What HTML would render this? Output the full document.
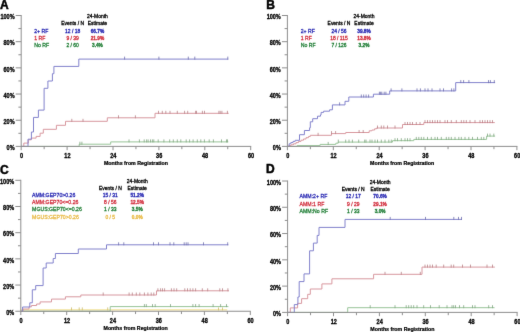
<!DOCTYPE html>
<html><head><meta charset="utf-8"><title>Kaplan-Meier curves</title>
<style>html,body{margin:0;padding:0;background:#fff;width:520px;height:332px;overflow:hidden}svg{display:block;will-change:transform}text{font-family:"Liberation Sans",sans-serif}</style>
</head><body><svg width="520" height="332" viewBox="0 0 520 332"><defs><filter id="bl" x="0" y="0" width="520" height="332" filterUnits="userSpaceOnUse"><feConvolveMatrix order="3" kernelMatrix="0.00524 0.06192 0.00524 0.06192 0.73137 0.06192 0.00524 0.06192 0.00524" preserveAlpha="false" edgeMode="none"/></filter></defs><rect width="520" height="332" fill="#fff"/><g filter="url(#bl)"><g><text transform="translate(97.40 18.10) scale(0.92 1)" text-anchor="middle" font-size="5.4" fill="#000" stroke="#000" stroke-width="0.3">24-Month</text><text transform="translate(72.60 25.20) scale(0.92 1)" text-anchor="middle" font-size="5.4" fill="#000" stroke="#000" stroke-width="0.3">Events / N</text><text transform="translate(97.40 25.20) scale(0.92 1)" text-anchor="middle" font-size="5.4" fill="#000" stroke="#000" stroke-width="0.3">Estimate</text><text transform="translate(34.20 32.70) scale(0.96 1)" font-size="5.4" fill="#2020b0" stroke="#2020b0" stroke-width="0.25">2+ RF</text><text transform="translate(72.60 32.70) scale(0.92 1)" text-anchor="middle" font-size="5.4" fill="#2020b0" stroke="#2020b0" stroke-width="0.3">12 / 18</text><text transform="translate(97.40 32.70) scale(0.88 1)" text-anchor="middle" font-size="5.4" font-weight="bold" fill="#2020b0" stroke="#2020b0" stroke-width="0.3">66.7%</text><text transform="translate(34.20 39.80) scale(0.96 1)" font-size="5.4" fill="#d02838" stroke="#d02838" stroke-width="0.25">1 RF</text><text transform="translate(72.60 39.80) scale(0.92 1)" text-anchor="middle" font-size="5.4" fill="#d02838" stroke="#d02838" stroke-width="0.3">9 / 39</text><text transform="translate(97.40 39.80) scale(0.88 1)" text-anchor="middle" font-size="5.4" font-weight="bold" fill="#d02838" stroke="#d02838" stroke-width="0.3">21.9%</text><text transform="translate(34.20 46.90) scale(0.96 1)" font-size="5.4" fill="#187a30" stroke="#187a30" stroke-width="0.25">No RF</text><text transform="translate(72.60 46.90) scale(0.92 1)" text-anchor="middle" font-size="5.4" fill="#187a30" stroke="#187a30" stroke-width="0.3">2 / 60</text><text transform="translate(97.40 46.90) scale(0.88 1)" text-anchor="middle" font-size="5.4" font-weight="bold" fill="#187a30" stroke="#187a30" stroke-width="0.3">3.4%</text></g><path d="M21.20 146.40H79.20V144.20H110.70V141.90H228.30" stroke="#98c498" stroke-width="1.0" fill="none"/><path d="M79.90 144.70V141.70M81.90 144.70V141.70M129.00 142.40V139.40M139.40 142.40V139.40M144.20 142.40V139.40M146.60 142.40V139.40M148.10 142.40V139.40M150.50 142.40V139.40M152.40 142.40V139.40M153.80 142.40V139.40M158.20 142.40V139.40M163.90 142.40V139.40M169.70 142.40V139.40M173.30 142.40V139.40M177.30 142.40V139.40M180.80 142.40V139.40M186.20 142.40V139.40M189.60 142.40V139.40M193.10 142.40V139.40M197.30 142.40V139.40M200.80 142.40V139.40M204.40 142.40V139.40M209.20 142.40V139.40M213.40 142.40V139.40M221.50 142.40V139.40M226.50 142.40V139.40M227.50 142.40V139.40" stroke="#81a681" stroke-width="0.8" fill="none"/><path d="M21.20 146.40H23.80V143.10H28.30V139.80H31.30V138.10H36.10V136.40H40.10V133.20H43.30V129.30H56.40V125.30H65.50V121.30H107.30V117.80H155.00V113.30H228.70" stroke="#d8989f" stroke-width="1.0" fill="none"/><path d="M71.80 121.80V118.80M83.00 121.80V118.80M118.50 118.30V115.30M135.40 118.30V115.30M158.50 113.80V110.80M162.30 113.80V110.80M165.80 113.80V110.80M170.00 113.80V110.80M177.30 113.80V110.80M184.60 113.80V110.80M187.70 113.80V110.80M195.60 113.80V110.80M196.50 113.80V110.80M202.40 113.80V110.80M204.50 113.80V110.80M218.90 113.80V110.80M220.20 113.80V110.80M221.90 113.80V110.80M227.40 113.80V110.80" stroke="#b78187" stroke-width="0.8" fill="none"/><path d="M21.20 146.40H28.00V139.20H31.40V132.00H33.50V117.40H38.40V110.10H44.10V88.30H47.90V81.00H52.40V73.70H53.90V66.40H78.80V59.10H228.30" stroke="#8282cc" stroke-width="1.0" fill="none"/><path d="M124.60 59.60V56.60M158.90 59.60V56.60M188.30 59.60V56.60M194.80 59.60V56.60M227.80 59.60V56.60" stroke="#6e6ead" stroke-width="0.8" fill="none"/><g><text transform="translate(364.00 18.10) scale(0.92 1)" text-anchor="middle" font-size="5.4" fill="#000" stroke="#000" stroke-width="0.3">24-Month</text><text transform="translate(339.00 25.20) scale(0.92 1)" text-anchor="middle" font-size="5.4" fill="#000" stroke="#000" stroke-width="0.3">Events / N</text><text transform="translate(364.00 25.20) scale(0.92 1)" text-anchor="middle" font-size="5.4" fill="#000" stroke="#000" stroke-width="0.3">Estimate</text><text transform="translate(300.70 32.70) scale(0.96 1)" font-size="5.4" fill="#2020b0" stroke="#2020b0" stroke-width="0.25">2+ RF</text><text transform="translate(339.00 32.70) scale(0.92 1)" text-anchor="middle" font-size="5.4" fill="#2020b0" stroke="#2020b0" stroke-width="0.3">24 / 56</text><text transform="translate(364.00 32.70) scale(0.88 1)" text-anchor="middle" font-size="5.4" font-weight="bold" fill="#2020b0" stroke="#2020b0" stroke-width="0.3">39.8%</text><text transform="translate(300.70 39.80) scale(0.96 1)" font-size="5.4" fill="#d02838" stroke="#d02838" stroke-width="0.25">1 RF</text><text transform="translate(339.00 39.80) scale(0.92 1)" text-anchor="middle" font-size="5.4" fill="#d02838" stroke="#d02838" stroke-width="0.3">18 / 115</text><text transform="translate(364.00 39.80) scale(0.88 1)" text-anchor="middle" font-size="5.4" font-weight="bold" fill="#d02838" stroke="#d02838" stroke-width="0.3">13.8%</text><text transform="translate(300.70 46.90) scale(0.96 1)" font-size="5.4" fill="#187a30" stroke="#187a30" stroke-width="0.25">No RF</text><text transform="translate(339.00 46.90) scale(0.92 1)" text-anchor="middle" font-size="5.4" fill="#187a30" stroke="#187a30" stroke-width="0.3">7 / 126</text><text transform="translate(364.00 46.90) scale(0.88 1)" text-anchor="middle" font-size="5.4" font-weight="bold" fill="#187a30" stroke="#187a30" stroke-width="0.3">3.2%</text></g><path d="M287.40 146.40H297.10V145.60H320.10V144.40H335.80V143.20H338.20V142.10H392.50V140.70H413.80V139.40H486.60V136.10H495.10" stroke="#98c498" stroke-width="1.0" fill="none"/><path d="M328.20 144.90V141.90M338.30 142.60V139.60M345.70 142.60V139.60M349.00 142.60V139.60M352.40 142.60V139.60M358.70 142.60V139.60M364.70 142.60V139.60M366.00 142.60V139.60M370.00 142.60V139.60M372.00 142.60V139.60M375.00 142.60V139.60M377.50 142.60V139.60M381.30 142.60V139.60M385.00 142.60V139.60M388.80 142.60V139.60M391.30 142.60V139.60M395.00 141.20V138.20M397.50 141.20V138.20M401.30 141.20V138.20M405.00 141.20V138.20M407.50 141.20V138.20M410.00 141.20V138.20M416.30 139.90V136.90M418.80 139.90V136.90M421.30 139.90V136.90M423.80 139.90V136.90M427.50 139.90V136.90M431.30 139.90V136.90M435.00 139.90V136.90M437.50 139.90V136.90M441.30 139.90V136.90M446.30 139.90V136.90M448.80 139.90V136.90M451.30 139.90V136.90M455.00 139.90V136.90M458.80 139.90V136.90M461.30 139.90V136.90M465.00 139.90V136.90M468.80 139.90V136.90M472.50 139.90V136.90M477.50 139.90V136.90M481.30 139.90V136.90M483.80 139.90V136.90M487.50 136.60V133.60M490.00 136.60V133.60M493.80 136.60V133.60" stroke="#81a681" stroke-width="0.8" fill="none"/><path d="M287.40 146.40H289.00V145.60H291.00V144.80H293.50V143.80H296.00V142.60H298.50V141.40H301.00V140.20H303.50V139.00H306.00V137.70H308.50V136.50H310.30V135.30H331.50V133.60H345.70V132.50H369.20V130.80H371.90V130.00H374.60V128.80H376.50V128.00H402.50V124.50H423.80V122.60H494.80" stroke="#d8989f" stroke-width="1.0" fill="none"/><path d="M318.10 135.80V132.80M331.50 134.10V131.10M335.60 134.10V131.10M359.10 133.00V130.00M363.20 133.00V130.00M377.50 128.50V125.50M381.30 128.50V125.50M383.80 128.50V125.50M387.50 128.50V125.50M395.00 128.50V125.50M405.00 125.00V122.00M407.50 125.00V122.00M410.00 125.00V122.00M412.50 125.00V122.00M416.30 125.00V122.00M420.00 125.00V122.00M425.00 123.10V120.10M427.50 123.10V120.10M430.00 123.10V120.10M432.50 123.10V120.10M435.00 123.10V120.10M437.50 123.10V120.10M440.00 123.10V120.10M445.00 123.10V120.10M447.50 123.10V120.10M451.30 123.10V120.10M456.30 123.10V120.10M461.30 123.10V120.10M463.80 123.10V120.10M466.30 123.10V120.10M470.00 123.10V120.10M475.00 123.10V120.10M480.00 123.10V120.10M482.50 123.10V120.10M485.00 123.10V120.10M487.50 123.10V120.10M490.00 123.10V120.10M492.50 123.10V120.10" stroke="#b78187" stroke-width="0.8" fill="none"/><path d="M287.40 146.40H289.10V143.80H290.80V142.60H293.00V141.40H295.20V140.30H299.50V134.70H304.40V130.50H309.60V127.80H310.30V121.80H312.70V118.70H317.50V116.20H320.50V114.80H321.10V112.40H323.60V111.20H329.60V109.80H332.40V104.90H345.00V101.30H348.80V97.00H373.40V94.20H389.70V90.90H455.70V82.60H495.10" stroke="#8282cc" stroke-width="1.0" fill="none"/><path d="M339.60 105.40V102.40M361.30 97.50V94.50M363.70 97.50V94.50M366.10 97.50V94.50M368.60 97.50V94.50M379.40 94.70V91.70M380.60 94.70V91.70M381.80 94.70V91.70M384.20 94.70V91.70M385.90 94.70V91.70M391.10 91.40V88.40M401.90 91.40V88.40M417.00 91.40V88.40M420.40 91.40V88.40M425.00 91.40V88.40M428.00 91.40V88.40M432.00 91.40V88.40M440.00 91.40V88.40M443.50 91.40V88.40M451.60 91.40V88.40M453.90 91.40V88.40M460.80 83.10V80.10M463.60 83.10V80.10M468.90 83.10V80.10M488.50 83.10V80.10M490.40 83.10V80.10M494.30 83.10V80.10" stroke="#6e6ead" stroke-width="0.8" fill="none"/><g><text transform="translate(137.20 182.80) scale(0.92 1)" text-anchor="middle" font-size="5.4" fill="#000" stroke="#000" stroke-width="0.3">24-Month</text><text transform="translate(110.30 189.95) scale(0.92 1)" text-anchor="middle" font-size="5.4" fill="#000" stroke="#000" stroke-width="0.3">Events / N</text><text transform="translate(137.20 189.95) scale(0.92 1)" text-anchor="middle" font-size="5.4" fill="#000" stroke="#000" stroke-width="0.3">Estimate</text><text transform="translate(32.10 197.10) scale(0.96 1)" font-size="5.4" fill="#2020b0" stroke="#2020b0" stroke-width="0.25">AMM:GEP70&gt;0.26</text><text transform="translate(110.30 197.10) scale(0.92 1)" text-anchor="middle" font-size="5.4" fill="#2020b0" stroke="#2020b0" stroke-width="0.3">15 / 31</text><text transform="translate(137.20 197.10) scale(0.88 1)" text-anchor="middle" font-size="5.4" font-weight="bold" fill="#2020b0" stroke="#2020b0" stroke-width="0.3">51.2%</text><text transform="translate(32.10 204.25) scale(0.96 1)" font-size="5.4" fill="#d02838" stroke="#d02838" stroke-width="0.25">AMM:GEP70&lt;=0.26</text><text transform="translate(110.30 204.25) scale(0.92 1)" text-anchor="middle" font-size="5.4" fill="#d02838" stroke="#d02838" stroke-width="0.3">8 / 56</text><text transform="translate(137.20 204.25) scale(0.88 1)" text-anchor="middle" font-size="5.4" font-weight="bold" fill="#d02838" stroke="#d02838" stroke-width="0.3">12.5%</text><text transform="translate(32.10 211.40) scale(0.96 1)" font-size="5.4" fill="#187a30" stroke="#187a30" stroke-width="0.25">MGUS:GEP70&lt;=0.26</text><text transform="translate(110.30 211.40) scale(0.92 1)" text-anchor="middle" font-size="5.4" fill="#187a30" stroke="#187a30" stroke-width="0.3">1 / 33</text><text transform="translate(137.20 211.40) scale(0.88 1)" text-anchor="middle" font-size="5.4" font-weight="bold" fill="#187a30" stroke="#187a30" stroke-width="0.3">3.5%</text><text transform="translate(32.10 218.55) scale(0.96 1)" font-size="5.4" fill="#e8b840" stroke="#e8b840" stroke-width="0.25">MGUS:GEP70&gt;0.26</text><text transform="translate(110.30 218.55) scale(0.92 1)" text-anchor="middle" font-size="5.4" fill="#e8b840" stroke="#e8b840" stroke-width="0.3">0 / 5</text><text transform="translate(137.20 218.55) scale(0.88 1)" text-anchor="middle" font-size="5.4" font-weight="bold" fill="#e8b840" stroke="#e8b840" stroke-width="0.3">0.0%</text></g><path d="M20.80 309.90H227.30" stroke="#f0dc80" stroke-width="1.0" fill="none"/><path d="M71.50 310.40V307.40M79.20 310.40V307.40M82.30 310.40V307.40M107.70 310.40V307.40M218.50 310.40V307.40M222.50 310.40V307.40" stroke="#ccbb6c" stroke-width="0.8" fill="none"/><path d="M20.80 311.25H110.20V306.60H228.40" stroke="#98c498" stroke-width="1.0" fill="none"/><path d="M144.40 307.10V304.10M146.30 307.10V304.10M152.50 307.10V304.10M155.20 307.10V304.10M170.50 307.10V304.10M192.90 307.10V304.10M195.60 307.10V304.10M199.10 307.10V304.10M213.10 307.10V304.10M220.60 307.10V304.10M226.50 307.10V304.10" stroke="#81a681" stroke-width="0.8" fill="none"/><path d="M20.80 311.25H23.00V309.00H29.00V306.90H31.40V305.50H36.60V304.00H40.10V301.90H51.50V299.10H65.40V296.80H80.80V295.00H156.50V290.80H229.00" stroke="#d8989f" stroke-width="1.0" fill="none"/><path d="M103.20 295.50V292.50M129.10 295.50V292.50M132.30 295.50V292.50M136.30 295.50V292.50M139.80 295.50V292.50M144.40 295.50V292.50M147.90 295.50V292.50M151.20 295.50V292.50M153.80 295.50V292.50M157.90 291.30V288.30M160.60 291.30V288.30M162.50 291.30V288.30M164.60 291.30V288.30M171.40 291.30V288.30M174.00 291.30V288.30M176.70 291.30V288.30M184.80 291.30V288.30M187.50 291.30V288.30M190.20 291.30V288.30M192.90 291.30V288.30M195.60 291.30V288.30M202.30 291.30V288.30M207.70 291.30V288.30M219.80 291.30V288.30M222.50 291.30V288.30M227.90 291.30V288.30" stroke="#b78187" stroke-width="0.8" fill="none"/><path d="M20.80 311.25H22.60V307.00H29.80V302.80H32.30V289.80H35.70V285.60H43.10V268.00H46.20V263.00H53.20V258.50H55.40V253.50H78.30V249.00H106.50V244.80H228.40" stroke="#8282cc" stroke-width="1.0" fill="none"/><path d="M118.60 245.30V242.30M123.80 245.30V242.30M153.50 245.30V242.30M158.50 245.30V242.30M170.00 245.30V242.30M173.80 245.30V242.30M184.20 245.30V242.30M186.20 245.30V242.30M188.00 245.30V242.30M203.50 245.30V242.30M227.70 245.30V242.30" stroke="#6e6ead" stroke-width="0.8" fill="none"/><g><text transform="translate(380.10 183.80) scale(0.92 1)" text-anchor="middle" font-size="5.4" fill="#000" stroke="#000" stroke-width="0.3">24-Month</text><text transform="translate(353.20 191.10) scale(0.92 1)" text-anchor="middle" font-size="5.4" fill="#000" stroke="#000" stroke-width="0.3">Events / N</text><text transform="translate(380.10 191.10) scale(0.92 1)" text-anchor="middle" font-size="5.4" fill="#000" stroke="#000" stroke-width="0.3">Estimate</text><text transform="translate(299.60 198.40) scale(0.96 1)" font-size="5.4" fill="#2020b0" stroke="#2020b0" stroke-width="0.25">AMM:2+ RF</text><text transform="translate(353.20 198.40) scale(0.92 1)" text-anchor="middle" font-size="5.4" fill="#2020b0" stroke="#2020b0" stroke-width="0.3">12 / 17</text><text transform="translate(380.10 198.40) scale(0.88 1)" text-anchor="middle" font-size="5.4" font-weight="bold" fill="#2020b0" stroke="#2020b0" stroke-width="0.3">70.6%</text><text transform="translate(299.60 205.70) scale(0.96 1)" font-size="5.4" fill="#d02838" stroke="#d02838" stroke-width="0.25">AMM:1 RF</text><text transform="translate(353.20 205.70) scale(0.92 1)" text-anchor="middle" font-size="5.4" fill="#d02838" stroke="#d02838" stroke-width="0.3">9 / 29</text><text transform="translate(380.10 205.70) scale(0.88 1)" text-anchor="middle" font-size="5.4" font-weight="bold" fill="#d02838" stroke="#d02838" stroke-width="0.3">29.1%</text><text transform="translate(299.60 213.00) scale(0.96 1)" font-size="5.4" fill="#187a30" stroke="#187a30" stroke-width="0.25">AMM:No RF</text><text transform="translate(353.20 213.00) scale(0.92 1)" text-anchor="middle" font-size="5.4" fill="#187a30" stroke="#187a30" stroke-width="0.3">1 / 33</text><text transform="translate(380.10 213.00) scale(0.88 1)" text-anchor="middle" font-size="5.4" font-weight="bold" fill="#187a30" stroke="#187a30" stroke-width="0.3">3.0%</text></g><path d="M287.60 312.40H347.70V307.70H494.50" stroke="#98c498" stroke-width="1.0" fill="none"/><path d="M370.20 308.20V305.20M395.00 308.20V305.20M406.20 308.20V305.20M408.70 308.20V305.20M411.20 308.20V305.20M413.70 308.20V305.20M417.00 308.20V305.20M423.70 308.20V305.20M430.50 308.20V305.20M439.20 308.20V305.20M447.00 308.20V305.20M452.00 308.20V305.20M453.70 308.20V305.20M455.50 308.20V305.20M459.50 308.20V305.20M463.70 308.20V305.20M472.50 308.20V305.20M475.00 308.20V305.20M488.70 308.20V305.20M492.50 308.20V305.20" stroke="#81a681" stroke-width="0.8" fill="none"/><path d="M287.60 312.40H290.30V307.90H297.60V303.40H301.60V298.70H307.70V294.30H310.30V289.00H321.90V283.90H331.90V278.80H373.60V274.30H422.00V267.10H494.80" stroke="#d8989f" stroke-width="1.0" fill="none"/><path d="M385.00 274.80V271.80M401.30 274.80V271.80M420.30 274.80V271.80M425.00 267.60V264.60M427.50 267.60V264.60M430.00 267.60V264.60M432.50 267.60V264.60M436.20 267.60V264.60M443.70 267.60V264.60M451.20 267.60V264.60M453.70 267.60V264.60M462.50 267.60V264.60M470.50 267.60V264.60M487.00 267.60V264.60M492.50 267.60V264.60" stroke="#b78187" stroke-width="0.8" fill="none"/><path d="M287.60 312.40H294.30V304.60H297.90V297.00H299.20V281.60H304.00V273.90H309.60V250.80H313.40V243.10H317.20V235.40H319.00V227.40H345.00V219.40H462.00" stroke="#8282cc" stroke-width="1.0" fill="none"/><path d="M390.20 219.90V216.90M425.50 219.90V216.90M453.80 219.90V216.90M458.50 219.90V216.90M461.50 219.90V216.90" stroke="#6e6ead" stroke-width="0.8" fill="none"/><path d="M21.20 15.00V150.20M15.70 146.40H251.20M18.40 133.31H21.20M15.70 120.22H21.20M18.40 107.13H21.20M15.70 94.04H21.20M18.40 80.95H21.20M15.70 67.86H21.20M18.40 54.77H21.20M15.70 41.68H21.20M18.40 28.59H21.20M15.70 15.50H21.20M44.15 146.40V149.20M67.10 146.40V150.20M90.05 146.40V149.20M113.00 146.40V150.20M135.95 146.40V149.20M158.90 146.40V150.20M181.85 146.40V149.20M204.80 146.40V150.20M227.75 146.40V149.20M250.70 146.40V150.20" stroke="#8e8e8e" stroke-width="1.0" fill="none"/><path d="M287.40 15.00V150.20M281.90 146.40H517.40M284.60 133.31H287.40M281.90 120.22H287.40M284.60 107.13H287.40M281.90 94.04H287.40M284.60 80.95H287.40M281.90 67.86H287.40M284.60 54.77H287.40M281.90 41.68H287.40M284.60 28.59H287.40M281.90 15.50H287.40M310.35 146.40V149.20M333.30 146.40V150.20M356.25 146.40V149.20M379.20 146.40V150.20M402.15 146.40V149.20M425.10 146.40V150.20M448.05 146.40V149.20M471.00 146.40V150.20M493.95 146.40V149.20M516.90 146.40V150.20" stroke="#8e8e8e" stroke-width="1.0" fill="none"/><path d="M20.80 179.80V315.05M15.30 311.25H250.80M18.00 298.15H20.80M15.30 285.06H20.80M18.00 271.97H20.80M15.30 258.87H20.80M18.00 245.78H20.80M15.30 232.68H20.80M18.00 219.58H20.80M15.30 206.49H20.80M18.00 193.40H20.80M15.30 180.30H20.80M43.75 311.25V314.05M66.70 311.25V315.05M89.65 311.25V314.05M112.60 311.25V315.05M135.55 311.25V314.05M158.50 311.25V315.05M181.45 311.25V314.05M204.40 311.25V315.05M227.35 311.25V314.05M250.30 311.25V315.05" stroke="#8e8e8e" stroke-width="1.0" fill="none"/><path d="M287.60 180.50V316.20M282.10 312.40H517.60M284.80 299.26H287.60M282.10 286.12H287.60M284.80 272.98H287.60M282.10 259.84H287.60M284.80 246.70H287.60M282.10 233.56H287.60M284.80 220.42H287.60M282.10 207.28H287.60M284.80 194.14H287.60M282.10 181.00H287.60M310.55 312.40V315.20M333.50 312.40V316.20M356.45 312.40V315.20M379.40 312.40V316.20M402.35 312.40V315.20M425.30 312.40V316.20M448.25 312.40V315.20M471.20 312.40V316.20M494.15 312.40V315.20M517.10 312.40V316.20" stroke="#8e8e8e" stroke-width="1.0" fill="none"/><g font-size="6.3" font-weight="bold" fill="#000" stroke="#000" stroke-width="0.3"><text transform="translate(14.60 150.20) scale(0.88 1)" text-anchor="end">0%</text><text transform="translate(14.60 124.02) scale(0.88 1)" text-anchor="end">20%</text><text transform="translate(14.60 97.84) scale(0.88 1)" text-anchor="end">40%</text><text transform="translate(14.60 71.66) scale(0.88 1)" text-anchor="end">60%</text><text transform="translate(14.60 45.48) scale(0.88 1)" text-anchor="end">80%</text><text transform="translate(14.60 19.30) scale(0.88 1)" text-anchor="end">100%</text><text transform="translate(21.50 157.50) scale(0.88 1)" text-anchor="middle">0</text><text transform="translate(67.40 157.50) scale(0.88 1)" text-anchor="middle">12</text><text transform="translate(113.30 157.50) scale(0.88 1)" text-anchor="middle">24</text><text transform="translate(159.20 157.50) scale(0.88 1)" text-anchor="middle">36</text><text transform="translate(205.10 157.50) scale(0.88 1)" text-anchor="middle">48</text><text transform="translate(251.00 157.50) scale(0.88 1)" text-anchor="middle">60</text></g><text transform="translate(135.95 165.10) scale(0.925 1)" text-anchor="middle" font-size="5.7" font-weight="bold" fill="#000" stroke="#000" stroke-width="0.25">Months from Registration</text><text x="0.00" y="8.90" font-size="12" font-weight="bold" fill="#000" stroke="#000" stroke-width="0.5">A</text><g font-size="6.3" font-weight="bold" fill="#000" stroke="#000" stroke-width="0.3"><text transform="translate(280.80 150.20) scale(0.88 1)" text-anchor="end">0%</text><text transform="translate(280.80 124.02) scale(0.88 1)" text-anchor="end">20%</text><text transform="translate(280.80 97.84) scale(0.88 1)" text-anchor="end">40%</text><text transform="translate(280.80 71.66) scale(0.88 1)" text-anchor="end">60%</text><text transform="translate(280.80 45.48) scale(0.88 1)" text-anchor="end">80%</text><text transform="translate(280.80 19.30) scale(0.88 1)" text-anchor="end">100%</text><text transform="translate(287.70 157.50) scale(0.88 1)" text-anchor="middle">0</text><text transform="translate(333.60 157.50) scale(0.88 1)" text-anchor="middle">12</text><text transform="translate(379.50 157.50) scale(0.88 1)" text-anchor="middle">24</text><text transform="translate(425.40 157.50) scale(0.88 1)" text-anchor="middle">36</text><text transform="translate(471.30 157.50) scale(0.88 1)" text-anchor="middle">48</text><text transform="translate(517.20 157.50) scale(0.88 1)" text-anchor="middle">60</text></g><text transform="translate(402.15 165.10) scale(0.925 1)" text-anchor="middle" font-size="5.7" font-weight="bold" fill="#000" stroke="#000" stroke-width="0.25">Months from Registration</text><text x="266.30" y="8.90" font-size="12" font-weight="bold" fill="#000" stroke="#000" stroke-width="0.5">B</text><g font-size="6.3" font-weight="bold" fill="#000" stroke="#000" stroke-width="0.3"><text transform="translate(14.20 315.05) scale(0.88 1)" text-anchor="end">0%</text><text transform="translate(14.20 288.86) scale(0.88 1)" text-anchor="end">20%</text><text transform="translate(14.20 262.67) scale(0.88 1)" text-anchor="end">40%</text><text transform="translate(14.20 236.48) scale(0.88 1)" text-anchor="end">60%</text><text transform="translate(14.20 210.29) scale(0.88 1)" text-anchor="end">80%</text><text transform="translate(14.20 184.10) scale(0.88 1)" text-anchor="end">100%</text><text transform="translate(21.10 323.05) scale(0.88 1)" text-anchor="middle">0</text><text transform="translate(67.00 323.05) scale(0.88 1)" text-anchor="middle">12</text><text transform="translate(112.90 323.05) scale(0.88 1)" text-anchor="middle">24</text><text transform="translate(158.80 323.05) scale(0.88 1)" text-anchor="middle">36</text><text transform="translate(204.70 323.05) scale(0.88 1)" text-anchor="middle">48</text><text transform="translate(250.60 323.05) scale(0.88 1)" text-anchor="middle">60</text></g><text transform="translate(135.55 329.95) scale(0.925 1)" text-anchor="middle" font-size="5.7" font-weight="bold" fill="#000" stroke="#000" stroke-width="0.25">Months from Registration</text><text x="0.00" y="173.60" font-size="12" font-weight="bold" fill="#000" stroke="#000" stroke-width="0.5">C</text><g font-size="6.3" font-weight="bold" fill="#000" stroke="#000" stroke-width="0.3"><text transform="translate(281.00 316.20) scale(0.88 1)" text-anchor="end">0%</text><text transform="translate(281.00 289.92) scale(0.88 1)" text-anchor="end">20%</text><text transform="translate(281.00 263.64) scale(0.88 1)" text-anchor="end">40%</text><text transform="translate(281.00 237.36) scale(0.88 1)" text-anchor="end">60%</text><text transform="translate(281.00 211.08) scale(0.88 1)" text-anchor="end">80%</text><text transform="translate(281.00 184.80) scale(0.88 1)" text-anchor="end">100%</text><text transform="translate(287.90 323.50) scale(0.88 1)" text-anchor="middle">0</text><text transform="translate(333.80 323.50) scale(0.88 1)" text-anchor="middle">12</text><text transform="translate(379.70 323.50) scale(0.88 1)" text-anchor="middle">24</text><text transform="translate(425.60 323.50) scale(0.88 1)" text-anchor="middle">36</text><text transform="translate(471.50 323.50) scale(0.88 1)" text-anchor="middle">48</text><text transform="translate(517.40 323.50) scale(0.88 1)" text-anchor="middle">60</text></g><text transform="translate(402.35 331.10) scale(0.925 1)" text-anchor="middle" font-size="5.7" font-weight="bold" fill="#000" stroke="#000" stroke-width="0.25">Months from Registration</text><text x="266.00" y="172.90" font-size="12" font-weight="bold" fill="#000" stroke="#000" stroke-width="0.5">D</text></g></svg></body></html>
